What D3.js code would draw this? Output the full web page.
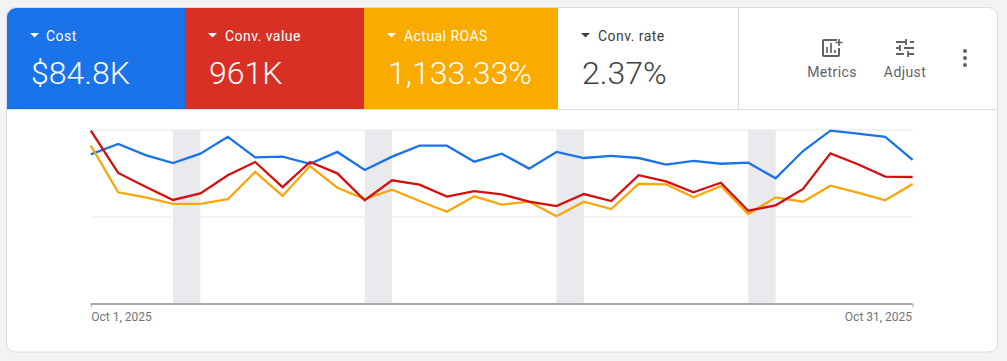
<!DOCTYPE html>
<html lang="en">
<head>
    <meta charset="UTF-8">
    <title>Campaign performance</title>
    <script src="https://d3js.org/d3.v7.min.js"></script>
    <style>
        html, body {
            margin: 0;
            background: #f1f3f4;
        }
        svg {
            display: block;
        }
        text {
            font-family: Roboto, sans-serif;
        }
    </style>
</head>
<body>
<svg height="361" width="1007"></svg>

<script>
    // metric tiles
    const metricNames  = ["Cost", "Conv. value", "Actual ROAS", "Conv. rate"];
    const metricTotals = ["$84.8K", "961K", "1,133.33%", "2.37%"];

    const cost = [86.0, 92.0, 85.6, 81.0, 86.4, 96.1, 84.3, 84.7, 80.6, 87.4, 77.0,
        84.7, 91.0, 91.0, 81.8, 86.4, 77.8, 87.4, 83.9, 85.1, 83.9,
        80.1, 82.2, 80.6, 81.2, 72.2, 87.9, 99.6, 97.9, 96.1, 82.8];
    const convValue = [99.6, 75.3, 67.4, 59.8, 63.6, 74.0, 81.6, 67.2, 81.6, 75.1, 59.6,
        71.1, 68.6, 61.7, 64.9, 63.0, 58.8, 56.3, 63.2, 59.2, 74.0,
        70.5, 64.2, 69.7, 53.6, 56.7, 66.1, 86.6, 80.3, 73.2, 73.0];
    const actualRoas = [91.0, 64.2, 61.3, 57.6, 57.5, 60.2, 75.9, 62.1, 79.3, 66.8, 60.3,
        65.7, 59.2, 53.0, 61.9, 57.1, 58.8, 50.4, 58.8, 54.6, 69.1,
        68.8, 61.3, 67.8, 51.7, 61.3, 58.8, 68.0, 64.0, 59.6, 69.0];

    const gridValues = [50, 100];
    const weekendStarts = ["2025-10-04", "2025-10-11", "2025-10-18", "2025-10-25"];
    const dateLabels = ["Oct 1, 2025", "Oct 31, 2025"];

    const parseDay = d3.utcParse("%Y-%m-%d");
    const days = d3.utcDay.range(parseDay("2025-10-01"), parseDay("2025-11-01"));

    const svg = d3.select("svg");

    const x = d3.scaleUtc().domain([days[0], days[30]]).range([90.8, 912.6]);
    const y = d3.scaleLinear().domain([0, 100]).range([304, 130]);

    const series = [
        {values: cost, color: "#1a73e8"},
        {values: actualRoas, color: "#f9a60c"},
        {values: convValue, color: "#d3100f"}
    ];

    drawCard();
    drawChart();
    drawHeader();

    function drawCard() {
        svg.append("rect")
                .attr("x", 6.5).attr("y", 7.5)
                .attr("width", 991).attr("height", 344.5)
                .attr("rx", 9)
                .attr("fill", "#fff")
                .attr("stroke", "#dadce0");
    }

    function drawChart() {
        svg.selectAll("rect.weekend")
                .data(weekendStarts)
                .enter()
                .append("rect").attr("class", "weekend")
                .attr("x", d => x(parseDay(d)))
                .attr("y", y(100))
                .attr("width", d => x(d3.utcDay.offset(parseDay(d), 1)) - x(parseDay(d)))
                .attr("height", y(0) - y(100) - 1)
                .attr("fill", "#e8eaed");

        svg.selectAll("line.grid")
                .data(gridValues)
                .enter()
                .append("line").attr("class", "grid")
                .attr("x1", x.range()[0]).attr("x2", x.range()[1])
                .attr("y1", d => y(d)).attr("y2", d => y(d))
                .attr("stroke", "#e8eaed")
                .attr("stroke-opacity", .85)
                .attr("stroke-width", 1.5);

        const line = d3.line()
                .x((d, i) => x(days[i]))
                .y(d => y(d));

        svg.selectAll("path.series")
                .data(series)
                .enter()
                .append("path").attr("class", "series")
                .attr("d", d => line(d.values))
                .attr("fill", "none")
                .attr("stroke", d => d.color)
                .attr("stroke-width", 2.3)
                .attr("stroke-linejoin", "miter");

        // axis with only the two end dates
        const axis = d3.axisBottom(x)
                .tickValues([days[0], days[30]])
                .tickSize(3)
                .tickPadding(5)
                .tickFormat((d, i) => dateLabels[i]);

        const axisG = svg.append("g")
                .attr("transform", `translate(0,${y(0)})`)
                .call(axis);
        axisG.select(".domain")
                .attr("stroke", "#a8a9ab")
                .attr("stroke-width", 2)
                .attr("d", `M${x.range()[0]},0H${x.range()[1]}`);
        axisG.selectAll(".tick line").attr("stroke", "#a8a9ab");
        axisG.selectAll(".tick text")
                .attr("font-size", 12)
                .attr("font-family", "Roboto, sans-serif")
                .attr("fill", "#70757a")
                .attr("dx", (d, i) => i ? -1 : 0)
                .attr("text-anchor", (d, i) => i ? "end" : "start");
    }

    function drawHeader() {
        const tileEdges = [7, 185, 364, 558, 738];
        const tileFill = ["#1a73e8", "#d93025", "#f9ab00", "#fff"];
        const tileText = ["#fff", "#fff", "#fff", "#3c4043"];

        const tiles = svg.selectAll("g.tile")
                .data(metricNames)
                .enter()
                .append("g").attr("class", "tile")
                .attr("transform", (d, i) => `translate(${tileEdges[i]},8)`);

        tiles.append("path")
                .attr("d", (d, i) => {
                    const w = tileEdges[i + 1] - tileEdges[i];
                    if (i === 0) return `M0,101V9A9,9 0 0 1 9,0H${w}V101Z`;
                    return `M0,0H${w}V101H0Z`;
                })
                .attr("fill", (d, i) => tileFill[i]);

        tiles.append("path")
                .attr("d", "M23,25h9l-4.5,4.5z")
                .attr("fill", (d, i) => tileText[i]);

        tiles.append("text")
                .attr("x", (d, i) => i ? 40 : 39).attr("y", 33)
                .attr("font-size", 14)
                .attr("letter-spacing", .45)
                .attr("fill", (d, i) => tileText[i])
                .text(d => d);

        tiles.append("text")
                .attr("x", 24).attr("y", 76)
                .attr("font-size", 32)
                .attr("font-weight", 300)
                .attr("fill", (d, i) => tileText[i])
                .text((d, i) => metricTotals[i]);

        svg.append("line")
                .attr("x1", 738.5).attr("x2", 738.5)
                .attr("y1", 8).attr("y2", 109)
                .attr("stroke", "#dadce0");
        svg.append("line")
                .attr("x1", 7).attr("x2", 998)
                .attr("y1", 109.5).attr("y2", 109.5)
                .attr("stroke", "#dadce0");

        // toolbar
        const grey = "#5f6368";
        const metrics = svg.append("g").attr("transform", "translate(822,39)").attr("fill", "none").attr("stroke", grey);
        metrics.append("path").attr("stroke-width", 2).attr("d", "M15,1H2a1,1 0 0 0 -1,1V16a1,1 0 0 0 1,1H16a1,1 0 0 0 1,-1V9");
        metrics.append("path").attr("stroke-width", 1.7).attr("d", "M5,14V8M9,14V4M13,14V11");
        metrics.append("path").attr("stroke-width", 1.7).attr("d", "M17,0V7M13.5,3.5H20.5");

        const adjust = svg.append("g").attr("transform", "translate(896,39)").attr("fill", "none").attr("stroke", grey).attr("stroke-width", 1.8);
        adjust.append("path").attr("d", "M0,3H10M14,3H18M10,0V6M0,9H4M8,9H18M4,6V12M0,15H8M12,15H18M12,12V18");

        svg.selectAll("text.tool")
                .data([["Metrics", 832], ["Adjust", 905]])
                .enter()
                .append("text").attr("class", "tool")
                .attr("x", d => d[1]).attr("y", 77)
                .attr("text-anchor", "middle")
                .attr("font-size", 14)
                .attr("letter-spacing", .4)
                .attr("fill", grey)
                .text(d => d[0]);

        svg.selectAll("circle.dot")
                .data([51, 58, 65])
                .enter()
                .append("circle").attr("class", "dot")
                .attr("cx", 965).attr("cy", d => d)
                .attr("r", 2)
                .attr("fill", grey);
    }
</script>

</body>
</html>
